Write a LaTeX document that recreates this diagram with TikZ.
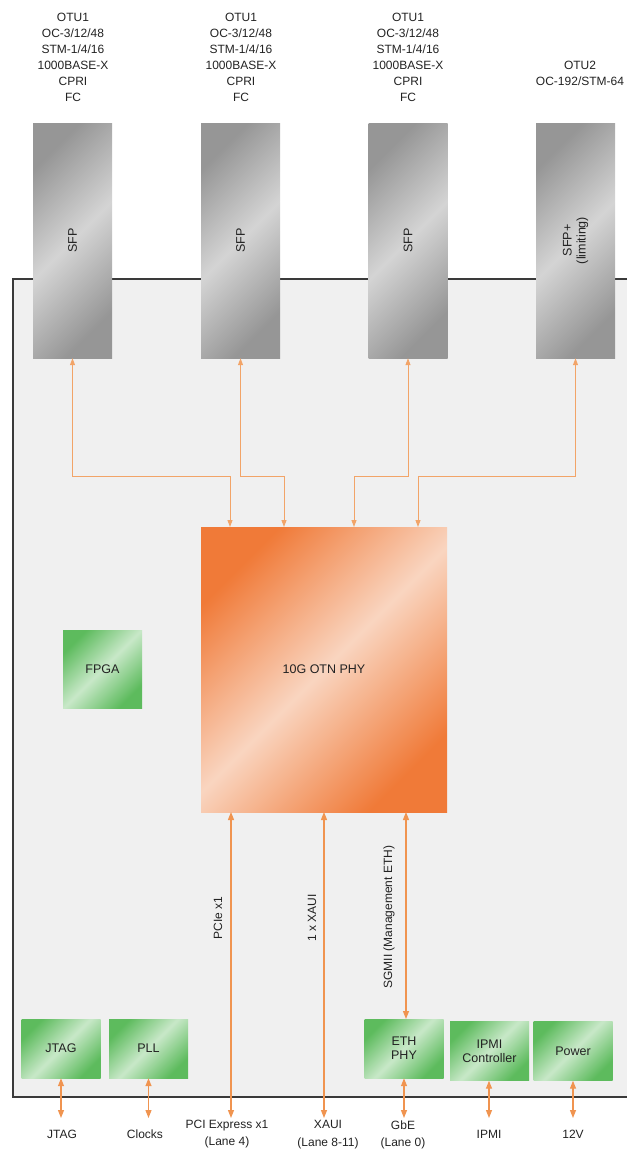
\documentclass[tikz,border=0pt]{standalone}
\usepackage{fontspec}
\setmainfont{Liberation Sans}
\usetikzlibrary{arrows.meta,calc}
\definecolor{boardfill}{HTML}{F0F0F0}
\definecolor{boarddraw}{HTML}{3A3A3A}
\definecolor{orline}{HTML}{F2A468}
\definecolor{orline2}{HTML}{F09450}
\definecolor{sfpdark}{HTML}{969696}
\definecolor{sfplight}{HTML}{D4D4D4}
\definecolor{otndark}{HTML}{F07A38}
\definecolor{otnlight}{HTML}{F9D5C0}
\definecolor{grdark}{HTML}{5DBB5D}
\definecolor{grlight}{HTML}{C8E8C8}
\definecolor{txt}{HTML}{222222}
\tikzset{
  gshade/.style 2 args={top color=#1, bottom color=#1, middle color=#2, shading angle=45},
  box/.style={rectangle, inner sep=0pt, draw=none},
  sfpbox/.style={box, gshade={sfpdark}{sfplight}, minimum width=79pt, minimum height=235pt},
  otnbox/.style={box, gshade={otndark}{otnlight}, minimum width=246pt, minimum height=285pt},
  greenbox/.style={box, gshade={grdark}{grlight}, minimum width=79pt, minimum height=59pt, align=center, text=txt},
  lbl/.style={align=center, text=txt, font=\fontsize{12}{16}\selectfont, inner sep=0pt},
  lbl2/.style={align=center, text=txt, font=\fontsize{12}{17}\selectfont, inner sep=0pt},
  boxtxt/.style={align=center, text=txt, font=\fontsize{12.5}{14}\selectfont, inner sep=0pt},
  tarrow/.style={draw=orline, line width=0.9pt, {Triangle[length=7pt,width=5pt]}-{Triangle[length=7pt,width=5pt]}},
  barrow/.style={draw=orline2, line width=1.3pt, {Triangle[length=8pt,width=6pt]}-{Triangle[length=8pt,width=6pt]}},
}
\begin{document}
\begin{tikzpicture}[x=1pt,y=-1pt]
\useasboundingbox (0,0) rectangle (627,1149);
% board
\fill[boardfill] (13,279) rectangle (627,1097);
\draw[boarddraw, line width=2pt] (627,279) -- (13,279) -- (13,1097) -- (627,1097);

% top labels
\node[lbl] (t1) at (73,57) {OTU1\\OC-3/12/48\\STM-1/4/16\\1000BASE-X\\CPRI\\FC};
\node[lbl] (t2) at (241,57) {OTU1\\OC-3/12/48\\STM-1/4/16\\1000BASE-X\\CPRI\\FC};
\node[lbl] (t3) at (408,57) {OTU1\\OC-3/12/48\\STM-1/4/16\\1000BASE-X\\CPRI\\FC};
\node[lbl] (t4) at (580,73) {OTU2\\OC-192/STM-64};

% SFPs
\node[sfpbox] (s1) at (72.5,240.5) {};
\node[sfpbox] (s2) at (240.5,240.5) {};
\node[sfpbox] (s3) at (408,240.5) {};
\node[sfpbox] (s4) at (575.5,240.5) {};
\node[boxtxt, rotate=90] (s1t) at (s1) {SFP};
\node[boxtxt, rotate=90] (s2t) at (s2) {SFP};
\node[boxtxt, rotate=90] (s3t) at (s3) {SFP};
\node[boxtxt, rotate=90] (s4t) at (s4) {SFP+\\(limiting)};

% OTN PHY
\node[otnbox] (otn) at (324,669.5) {};
\node[boxtxt] (otnt) at (otn) {10G OTN PHY};

% FPGA
\node[greenbox, minimum height=78pt] (fpga) at (102.5,669) {};
\node[boxtxt] (fpgat) at (fpga) {FPGA};

% bottom boxes
\node[greenbox] (jtag) at (61,1048.5) {};
\node[boxtxt] (jtagt) at (jtag) {JTAG};
\node[greenbox] (pll) at (148.5,1048.5) {};
\node[boxtxt] (pllt) at (pll) {PLL};
\node[greenbox] (eth) at (404,1048.5) {};
\node[boxtxt] (etht) at (eth) {ETH\\PHY};
\node[greenbox] (ipmi) at (489.5,1051) {};
\node[boxtxt] (ipmit) at (ipmi) {IPMI\\Controller};
\node[greenbox] (pwr) at (573,1051) {};
\node[boxtxt] (pwrt) at (pwr) {Power};

% drop points on OTN
\coordinate (d1) at (230,527);
\coordinate (d2) at (284,527);
\coordinate (d3) at (354,527);
\coordinate (d4) at (418,527);
\draw[tarrow] (s1.south) -- ++(0,118) -| (d1);
\draw[tarrow] (s2.south) -- ++(0,118) -| (d2);
\draw[tarrow] (s3.south) -- ++(0,118) -| (d3);
\draw[tarrow] (s4.south) -- ++(0,118) -| (d4);

% bottom connectors
\coordinate (pcie) at (231,812);
\coordinate (pcieend) at (231,1118);
\coordinate (xaui) at (324,812);
\coordinate (xauiend) at (324,1118);
\coordinate (sgmii) at (406,812);
\coordinate (ethup) at (406,1019);
\draw[barrow] (pcie) -- (pcieend);
\draw[barrow] (xaui) -- (xauiend);
\draw[barrow] (sgmii) -- (ethup);
\node[lbl, rotate=90] (pciel) at (218,918) {PCIe x1};
\node[lbl, rotate=90] (xauil) at (312,918) {1 x XAUI};
\node[lbl, rotate=90] (sgmiil) at (389,917) {SGMII (Management ETH)};

\coordinate (jtagend) at (61,1118);
\coordinate (pllend) at (148.5,1118);
\coordinate (ethend) at (404,1118);
\coordinate (ipmiend) at (489,1118);
\coordinate (pwrend) at (573,1118);
\draw[barrow] (jtag.south) -- (jtagend);
\draw[barrow] (pll.south) -- (pllend);
\draw[barrow] (eth.south) -- (ethend);
\draw[barrow] (ipmi.south -| ipmiend) -- (ipmiend);
\draw[barrow] (pwr.south) -- (pwrend);

% bottom labels
\node[lbl] (l1) at (62,1134) {JTAG};
\node[lbl] (l2) at (145,1134) {Clocks};
\node[lbl2] (l3) at (227,1134.5) {PCI Express x1\\(Lane 4)};
\node[lbl2] (l4) at (328,1134.5) {XAUI\\[1pt](Lane 8-11)};
\node[lbl2] (l5) at (403,1134.5) {GbE\\(Lane 0)};
\node[lbl] (l6) at (489,1134) {IPMI};
\node[lbl] (l7) at (573,1134) {12V};
\end{tikzpicture}
\end{document}
